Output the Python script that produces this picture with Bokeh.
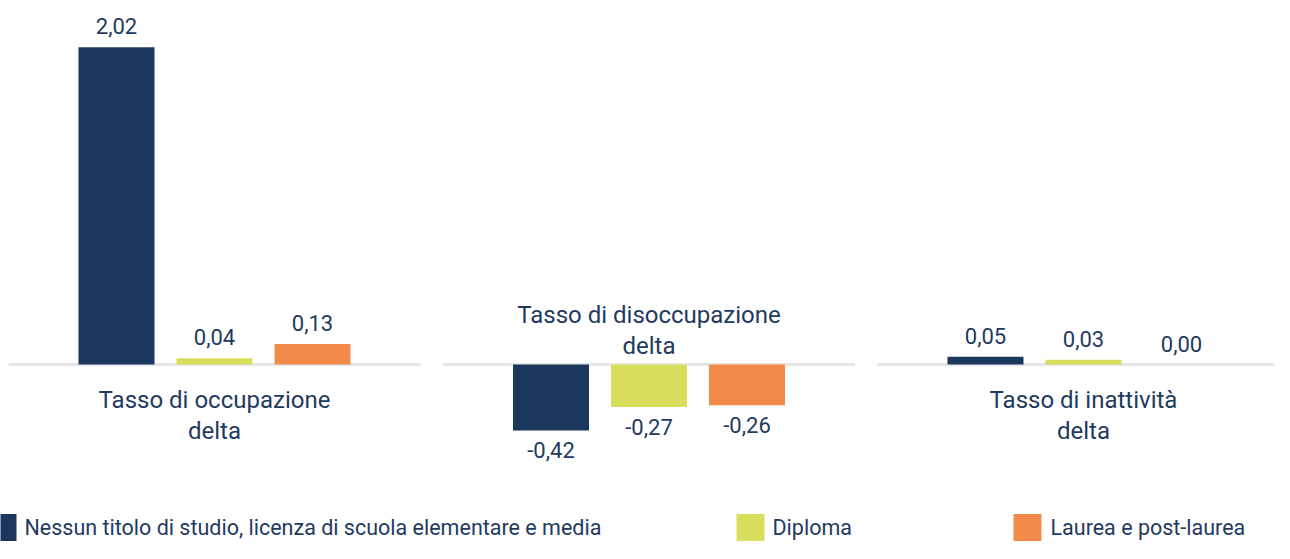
from bokeh.plotting import figure
from bokeh.models import Range1d, ColumnDataSource
from bokeh.core.properties import value
from bokeh.embed import file_html
from bokeh.resources import INLINE

# ---- data ----
categories = ["Tasso di occupazione\ndelta", "Tasso di disoccupazione\ndelta", "Tasso di inattività\ndelta"]
series_names = ["Nessun titolo di studio, licenza di scuola elementare e media", "Diploma", "Laurea e post-laurea"]
nessun = [2.02, -0.42, 0.05]
diploma = [0.04, -0.27, 0.03]
laurea = [0.13, -0.26, 0.00]
series_values = [nessun, diploma, laurea]
colors = ["#1b375e", "#d9dd5c", "#f28a4a"]

# ---- layout (screen pixels) ----
W, H = 1274, 543
BASE = 364.0      # y of zero line
SCALE = 157.0     # px per unit
FONT = "Roboto"
TXT = "#1f3a5f"
FIX = 8           # alphabetic baseline correction

def Y(py):
    return (BASE - py) / SCALE

def D(px):
    return px / SCALE

p = figure(width=W, height=H, output_backend="svg", toolbar_location=None,
           x_range=Range1d(0, W), y_range=Range1d(Y(H), Y(0)),
           min_border=0, x_axis_type=None, y_axis_type=None)
p.outline_line_color = None
p.grid.visible = False
p.background_fill_color = "white"

GROUP0, GSTEP = 214.0, 434.5
OFFS = [-98.0, 0.0, 98.0]
BARW = 76
centers = [GROUP0 + i * GSTEP for i in range(len(categories))]

# baseline segments per group
p.segment(x0=[c - 206 for c in centers], x1=[c + 206 for c in centers],
          y0=[0] * len(centers), y1=[0] * len(centers),
          line_color="#e6e6e6", line_width=3)

for s, (vals, col) in enumerate(zip(series_values, colors)):
    xs = [c + OFFS[s] for c in centers]
    src = ColumnDataSource(dict(x=xs, top=vals, bottom=[0] * len(vals)))
    p.vbar(x="x", top="top", bottom="bottom", width=BARW, source=src,
           fill_color=col, line_color=None)
    labels = [f"{v:.2f}".replace(".", ",") for v in vals]
    ly = [v + D(13 + FIX) if v >= 0 else v - D(28 - FIX) for v in vals]
    p.text(x=xs, y=ly, text=labels, text_font=value(FONT), text_font_size="22px",
           text_color=TXT, text_align="center", text_baseline="alphabetic")

# category labels
for i, cat in enumerate(categories):
    lines = cat.split("\n")
    group_vals = [sv[i] for sv in series_values]
    n = len(lines)
    if min(group_vals) < 0:
        ys = [Y(BASE - 11 - FIX - 31 * (n - 1 - k)) for k in range(n)]
    else:
        ys = [Y(BASE + 43 - FIX + 31 * k) for k in range(n)]
    p.text(x=[centers[i]] * n, y=ys, text=lines, text_font=value(FONT), text_font_size="24px",
           text_color=TXT, text_align="center", text_baseline="alphabetic")

# legend
leg_sq_x = [2, 750, 1027]
leg_text_x = [24, 772, 1050]
leg_y = 527
p.rect(x=leg_sq_x, y=[Y(leg_y)] * 3, width=28, height=D(27), fill_color=colors, line_color=None)
p.text(x=leg_text_x, y=[Y(leg_y)] * 3, text=series_names,
       text_font=value(FONT), text_font_size="21.5px", text_color=TXT,
       text_align="left", text_baseline="middle")

open("out.html", "w").write(file_html(p, INLINE))
